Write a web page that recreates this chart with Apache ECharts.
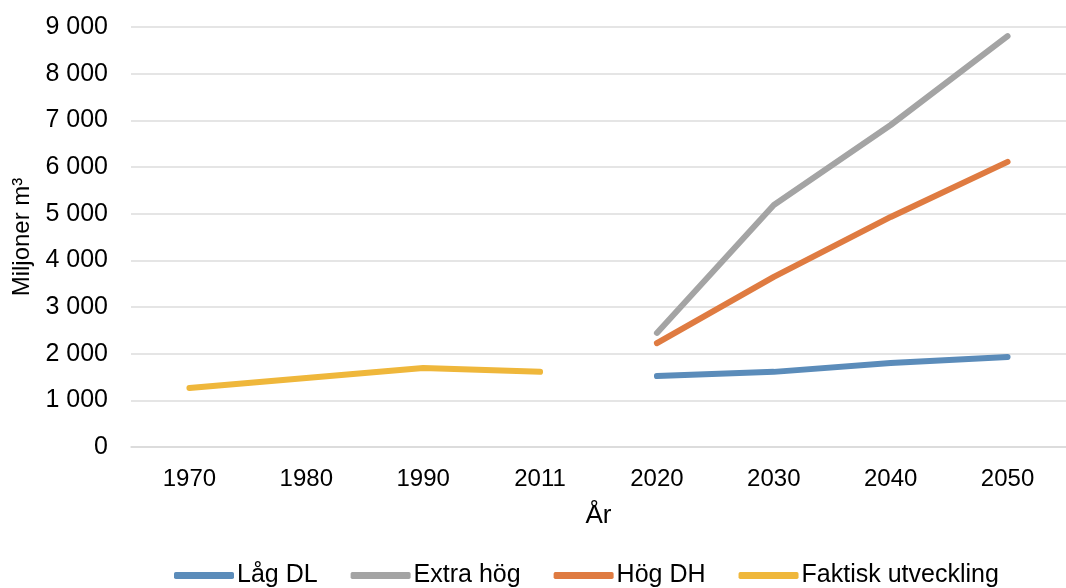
<!DOCTYPE html>
<html>
<head>
<meta charset="utf-8">
<script src="https://cdn.jsdelivr.net/npm/echarts@6/dist/echarts.min.js"></script>
<style>
  html, body { margin: 0; padding: 0; background: #fff; }
  #chart { width: 1066px; height: 588px; }
</style>
</head>
<body>
<div id="chart"></div>
<script>
// kategorier (år)
var years = ['1970', '1980', '1990', '2011', '2020', '2030', '2040', '2050']
// serier, miljoner m3
var lagDL = [null, null, null, null, 1520, 1610, 1800, 1930]
var extraHog = [null, null, null, null, 2445, 5185, 6900, 8805]
var hogDH = [null, null, null, null, 2225, 3645, 4930, 6110]
var faktisk = [1265, 1480, 1695, 1610, null, null, null, null]

var colors = ['#5b8cba', '#a4a4a4', '#df7b41', '#efb73b']
var names = ['Låg DL', 'Extra hög', 'Hög DH', 'Faktisk utveckling']
var font = 'Liberation Sans, Arial, sans-serif'

function fmt (v) {
  var s = String(v)
  return s.length > 3 ? s.slice(0, s.length - 3) + ' ' + s.slice(-3) : s
}

function line (name, data, color) {
  return {
    name: name,
    type: 'line',
    data: data,
    symbol: 'none',
    connectNulls: false,
    lineStyle: { width: 6, color: color, cap: 'round', join: 'round' },
    itemStyle: { color: color }
  }
}

var chart = echarts.init(document.getElementById('chart'))
chart.setOption({
  animation: false,
  grid: { left: 131, top: 27, width: 948, bottom: 141 },
  legend: {
    left: 169,
    top: 558,
    icon: 'roundRect',
    itemWidth: 60,
    itemHeight: 7,
    itemGap: 33,
    textStyle: { fontFamily: font, fontSize: 25, color: '#000', padding: [0, 0, 0, -2] },
    data: names
  },
  xAxis: {
    type: 'category',
    data: years,
    name: 'År',
    nameLocation: 'middle',
    nameGap: 56,
    nameTextStyle: { fontFamily: font, fontSize: 26, color: '#000' },
    axisLine: { lineStyle: { color: '#d9d9d9', width: 1.5 } },
    axisTick: { show: false },
    axisLabel: { fontFamily: font, fontSize: 24, color: '#000', margin: 20 }
  },
  yAxis: {
    type: 'value',
    min: 0,
    max: 9000,
    interval: 1000,
    name: 'Miljoner m³',
    nameLocation: 'middle',
    nameGap: 92,
    nameTextStyle: { fontFamily: font, fontSize: 24, color: '#000' },
    axisLine: { show: false },
    axisTick: { show: false },
    splitLine: { lineStyle: { color: '#dcdcdc', width: 1.5 } },
    axisLabel: { fontFamily: font, fontSize: 25, color: '#000', margin: 23, formatter: fmt }
  },
  series: [
    line(names[0], lagDL, colors[0]),
    line(names[1], extraHog, colors[1]),
    line(names[2], hogDH, colors[2]),
    line(names[3], faktisk, colors[3])
  ]
})
</script>
</body>
</html>
